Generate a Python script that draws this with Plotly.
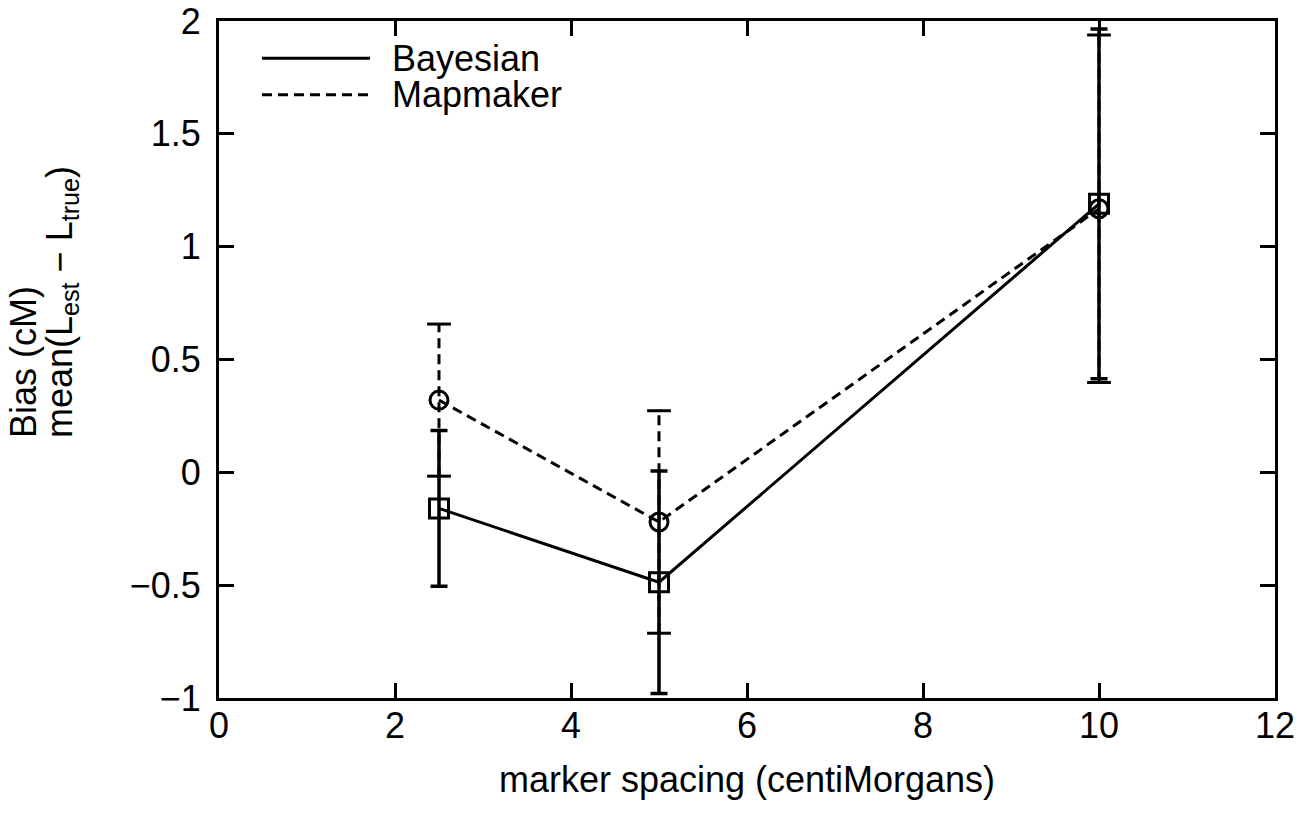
import plotly.graph_objects as go

# Marker spacing (cM) and estimated bias for the two mapping methods
spacing = [2.5, 5, 10]

bayes_bias = [-0.16, -0.487, 1.19]
bayes_err = [0.345, 0.493, 0.775]

mapmaker_bias = [0.32, -0.22, 1.168]
mapmaker_err = [0.337, 0.493, 0.77]

x_ticks = [0, 2, 4, 6, 8, 10, 12]
y_ticks = [-1, -0.5, 0, 0.5, 1, 1.5, 2]

FONT = "Liberation Sans, Arial, sans-serif"
FS = 36
BLACK = "#000000"

fig = go.Figure()

# Mapmaker: dashed line, open circles, dashed error bars
fig.add_trace(go.Scatter(
    x=spacing, y=mapmaker_bias, mode="lines+markers", showlegend=False,
    line=dict(color=BLACK, width=3, dash="10px,6px"),
    marker=dict(symbol="circle-open", size=18, color=BLACK, line=dict(width=3)),
))

bar_x, bar_y = [], []
cap_x, cap_y = [], []
for xv, yv, ev in zip(spacing, mapmaker_bias, mapmaker_err):
    bar_x += [xv, xv, None]
    bar_y += [yv - ev, yv + ev, None]
    cap_x += [xv, xv]
    cap_y += [yv - ev, yv + ev]

fig.add_trace(go.Scatter(
    x=bar_x, y=bar_y, mode="lines", showlegend=False,
    line=dict(color=BLACK, width=3, dash="10px,6px"),
))
fig.add_trace(go.Scatter(
    x=cap_x, y=cap_y, mode="markers", showlegend=False,
    marker=dict(symbol="line-ew", size=17, color=BLACK,
                line=dict(color=BLACK, width=3)),
))

# Bayesian: solid line, open squares, solid error bars
fig.add_trace(go.Scatter(
    x=spacing, y=bayes_bias, mode="lines+markers", showlegend=False,
    line=dict(color=BLACK, width=3),
    marker=dict(symbol="square-open", size=19, color=BLACK, line=dict(width=3)),
    error_y=dict(type="data", array=bayes_err, visible=True,
                 color=BLACK, thickness=3.5, width=8.5),
))

# Legend drawn as line samples with labels in the upper-left corner
legend_items = [("Bayesian", "solid", 0.945), ("Mapmaker", "10px,6px", 0.891)]
shapes = []
annotations = []
for name, dash, yp in legend_items:
    shapes.append(dict(type="line", xref="paper", yref="paper",
                       x0=0.0407, x1=0.143, y0=yp, y1=yp,
                       line=dict(color=BLACK, width=3, dash=dash)))
    annotations.append(dict(text=name, xref="paper", yref="paper",
                            x=0.162, y=yp, xanchor="left", yanchor="middle",
                            showarrow=False, font=dict(family=FONT, size=FS, color=BLACK)))

# Two-line y-axis title, start-aligned
annotations.append(dict(text="Bias (cM)", xref="paper", yref="paper",
                        x=0, y=0.381, xshift=-196, xanchor="center", yanchor="bottom",
                        textangle=-90, showarrow=False,
                        font=dict(family=FONT, size=FS, color=BLACK)))
annotations.append(dict(text="mean(L<sub>est</sub> \u2212 L<sub>true</sub>)",
                        xref="paper", yref="paper",
                        x=0, y=0.381, xshift=-157, xanchor="center", yanchor="bottom",
                        textangle=-90, showarrow=False,
                        font=dict(family=FONT, size=FS, color=BLACK)))

axis_common = dict(
    showgrid=False, zeroline=False, showline=True, linecolor=BLACK, linewidth=3,
    mirror="ticks", ticks="inside", ticklen=15, tickwidth=2.5, tickcolor=BLACK,
    tickfont=dict(family=FONT, size=FS, color=BLACK), automargin=False,
)

fig.update_layout(
    width=1312, height=816,
    margin=dict(l=219, r=37, t=21, b=118),
    paper_bgcolor="white", plot_bgcolor="white",
    font=dict(family=FONT, size=FS, color=BLACK),
    xaxis=dict(range=[0, 12], tickvals=x_ticks, ticktext=[str(v) for v in x_ticks],
               ticklabelstandoff=-6,
               title=dict(text="marker spacing (centiMorgans)", standoff=22,
                          font=dict(family=FONT, size=FS, color=BLACK)),
               **axis_common),
    yaxis=dict(range=[-1, 2], tickvals=y_ticks,
               ticktext=[("\u2212" + str(abs(v))) if v < 0 else str(v) for v in y_ticks],
               ticklabelstandoff=8,
               **axis_common),
    shapes=shapes,
    annotations=annotations,
    showlegend=False,
)

fig.write_html("out.html")
